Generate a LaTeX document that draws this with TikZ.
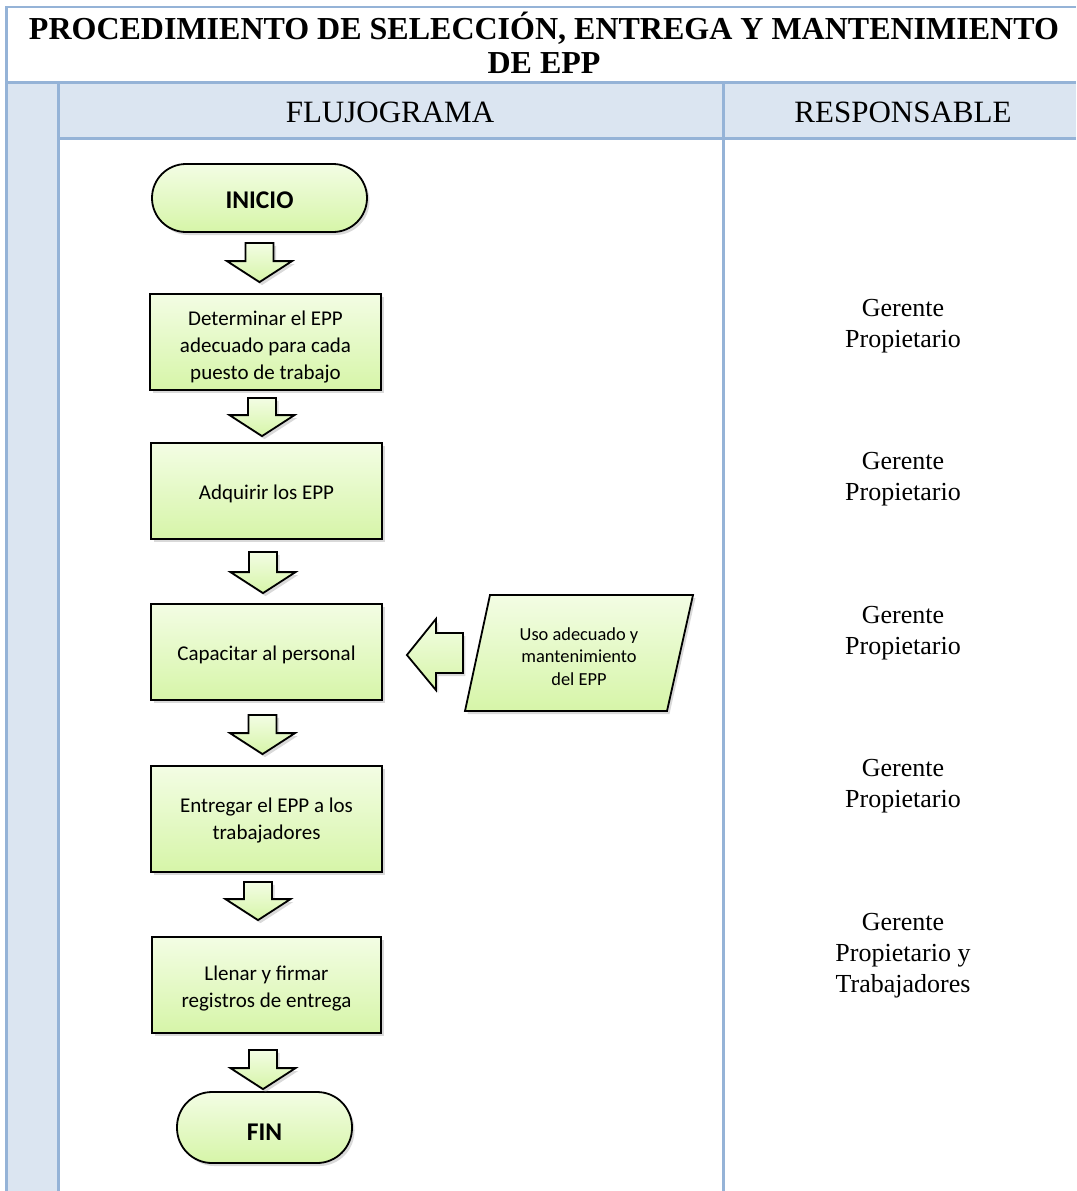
\documentclass[tikz,border=0pt]{standalone}
\usepackage{fontspec}
\setmainfont{Liberation Serif}
\newfontfamily\calibri{Carlito}
\usetikzlibrary{shadows,calc}
\definecolor{hdrfill}{RGB}{219,229,241}
\definecolor{hdrline}{RGB}{149,179,215}
\definecolor{gtop}{RGB}{243,253,228}
\definecolor{gbot}{RGB}{214,245,168}
\tikzset{
 greenfill/.style={top color=gtop, bottom color=gbot, draw=black, line width=1.8pt,
   drop shadow={shadow xshift=2.5pt, shadow yshift=-3pt, opacity=0.3}},
 procbox/.style={greenfill, rectangle, minimum width=231pt, minimum height=96pt, inner sep=4pt,
   align=center, font=\calibri\fontsize{21}{27}\selectfont,
   execute at begin node={\rule{0pt}{19.5pt}}},
 termbox/.style={greenfill, rectangle, rounded corners=34pt, align=center,
   font=\calibri\bfseries\fontsize{25.5}{30}\selectfont},
 resp/.style={align=center, font=\fontsize{26}{31}\selectfont},
 tline/.style={draw=hdrline, line width=3pt},
 barrow/.style={greenfill, line width=1.8pt, line join=miter},
 partext/.style={align=center, font=\calibri\fontsize{18.4}{22.5}\selectfont},
}
% #1 upper node, #2 lower node, #3 top gap, #4 bottom gap, #5 x shift
\newcommand\dnarrow[5]{%
 \draw[barrow] let \p1=(#1.south), \p2=(#2.north) in
   (\x1+#5pt-14pt,\y1-#3pt) -- (\x1+#5pt+14pt,\y1-#3pt) -- (\x1+#5pt+14pt,\y2+#4pt+21pt)
   -- (\x1+#5pt+32.5pt,\y2+#4pt+21pt) -- (\x1+#5pt,\y2+#4pt) -- (\x1+#5pt-32.5pt,\y2+#4pt+21pt)
   -- (\x1+#5pt-14pt,\y2+#4pt+21pt) -- cycle;}
\begin{document}
\begin{tikzpicture}[x=1pt,y=-1pt]
\useasboundingbox (0,0) rectangle (1076,1191);
% table background
\fill[hdrfill] (6,82) rectangle (1076,138);
\fill[hdrfill] (6,138) rectangle (58,1191);
\draw[hdrline, line width=2pt] (6,7) -- (1076,7);
\draw[tline] (6,82) -- (1076,82);
\draw[tline] (58,138) -- (1076,138);
\draw[tline] (6,6) -- (6,1191);
\draw[tline] (58,82) -- (58,1191);
\draw[tline] (723,82) -- (723,1191);
% headings
\node[font=\bfseries\fontsize{32}{34}\selectfont, align=center] (title) at (544,43)
  {PROCEDIMIENTO DE SELECCIÓN, ENTREGA Y MANTENIMIENTO\\DE EPP};
\node[font=\fontsize{31}{34}\selectfont] (hflu) at (390,112) {FLUJOGRAMA};
\node[font=\fontsize{31}{34}\selectfont] (hres) at (903,112) {RESPONSABLE};
% responsables
\node[resp] (r1) at (903,326.5) {Gerente\\Propietario};
\node[resp] (r2) at (903,479.5) {Gerente\\Propietario};
\node[resp] (r3) at (903,633) {Gerente\\Propietario};
\node[resp] (r4) at (903,786.5) {Gerente\\Propietario};
\node[resp] (r5) at (903,955.5) {Gerente\\Propietario y\\Trabajadores};
% flowchart
\node[termbox, minimum width=215pt, minimum height=68pt] (inicio) at (259.5,198) {\rule{0pt}{20.5pt}INICIO};
\node[procbox] (b1) at (265.5,342) {\rule{0pt}{24pt}Determinar el EPP\\adecuado para cada\\puesto de trabajo};
\node[procbox] (b2) at (266.5,491) {Adquirir los EPP};
\node[procbox] (b3) at (266.5,652) {Capacitar al personal};
\node[procbox, minimum height=106pt] (b4) at (266.5,819) {\rule{0pt}{18pt}Entregar el EPP a los\\trabajadores};
\node[procbox, minimum width=229pt] (b5) at (266.5,985) {\rule{0pt}{22pt}Llenar y firmar\\registros de entrega};
\node[termbox, minimum width=175pt, minimum height=71pt, rounded corners=35pt] (fin) at (264.5,1127.5) {\rule{0pt}{26pt}FIN};
% parallelogram
\coordinate (uc) at (579,656.5);
\draw[greenfill] (uc) ++(-89,-61.5) -- ++(203,0) -- ++(-26,116) -- ++(-202,0) -- cycle;
\node[partext] (uso) at (uc) {Uso adecuado y\\mantenimiento\\del EPP};
% block arrows
\dnarrow{inicio}{b1}{10}{11}{0}
\dnarrow{b1}{b2}{7}{6}{-3.5}
\dnarrow{b2}{b3}{12}{10}{-3.5}
\dnarrow{b3}{b4}{14}{11}{-4}
\dnarrow{b4}{b5}{9}{16}{-8.5}
\dnarrow{b5}{fin}{16}{2}{-3.5}
% left block arrow from parallelogram to b3
\draw[barrow] let \p1=(b3.east), \p2=(uso.west) in
  (\x1+24pt,\y1-3pt) -- (\x1+53pt,\y1+33pt) -- (\x1+53pt,\y1+19pt) -- (\x1+80pt,\y1+19pt)
  -- (\x1+80pt,\y1-21pt) -- (\x1+53pt,\y1-21pt) -- (\x1+53pt,\y1-38pt) -- cycle;
\end{tikzpicture}
\end{document}
